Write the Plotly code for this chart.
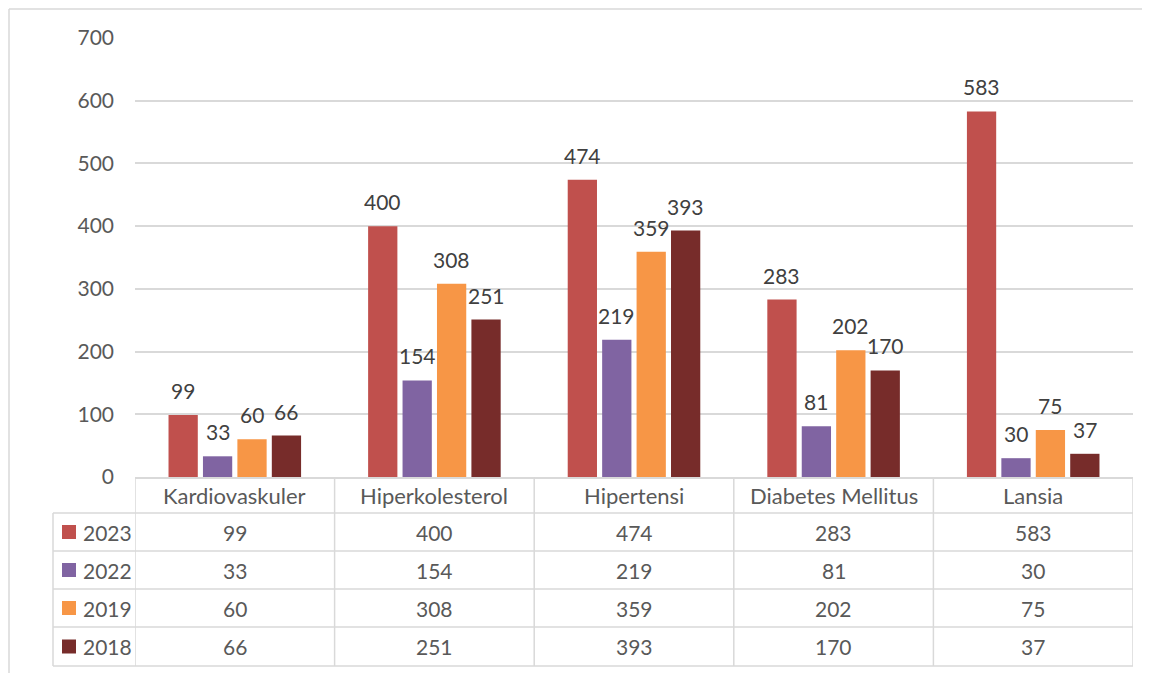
import plotly.graph_objects as go

categories = ["Kardiovaskuler", "Hiperkolesterol", "Hipertensi", "Diabetes Mellitus", "Lansia"]
series_names = ["2023", "2022", "2019", "2018"]
values_2023 = [99, 400, 474, 283, 583]
values_2022 = [33, 154, 219, 81, 30]
values_2019 = [60, 308, 359, 202, 75]
values_2018 = [66, 251, 393, 170, 37]
colors = ["#C0504D", "#8064A2", "#F79646", "#772C2A"]
y_ticks = [0, 100, 200, 300, 400, 500, 600, 700]

series_values = [values_2023, values_2022, values_2019, values_2018]

# page body has an 8px margin: work in reference pixels, shift by OFF
OFF = 8
W, H = 1150 - OFF, 673 - OFF
PLOT_L, PLOT_R, PLOT_T, PLOT_B = 135, 1133, 38, 477   # reference pixels
ML, MR, MT, MB = PLOT_L - OFF, 1150 - PLOT_R, PLOT_T - OFF, 673 - PLOT_B
PW, PH = PLOT_R - PLOT_L, PLOT_B - PLOT_T

def px_x(x):
    return (x - PLOT_L) / PW

def px_y(y):
    return (PLOT_B - y) / PH

FONT = "Lato, 'Open Sans', sans-serif"
FS = 22      # category labels
FN = 21      # numbers
GRID = "#d9d9d9"
TXT = "#595959"
BARGAP = 0.31

fig = go.Figure()
for name, vals, col in zip(series_names, series_values, colors):
    fig.add_trace(go.Bar(name=name, x=categories, y=vals, marker_color=col,
                         marker_line_width=0, hoverinfo="x+y+name"))

shapes = []
annotations = []

# data labels above bars
k = len(series_names)
slot = (1 - BARGAP) / k
for i, vals in enumerate(series_values):
    for j, v in enumerate(vals):
        annotations.append(dict(x=j + (i - (k - 1) / 2) * slot, xref="x", y=v, yref="y",
                                text=str(v), showarrow=False, xanchor="center", yanchor="bottom",
                                yshift=10, font=dict(family=FONT, size=FN, color="#404040")))

# table geometry (reference pixels)
header_top, header_bot = 477, 513
row_lines = [513, 551, 589, 627, 666]
left_col = 53

for yl in row_lines:
    shapes.append(dict(type="line", xref="paper", yref="paper",
                       x0=px_x(left_col), x1=1, y0=px_y(yl), y1=px_y(yl),
                       line=dict(color=GRID, width=1.5)))
n = len(categories)
for i in range(n + 1):
    shapes.append(dict(type="line", xref="x", yref="paper",
                       x0=i - 0.5, x1=i - 0.5, y0=px_y(header_top), y1=px_y(row_lines[-1]),
                       line=dict(color=GRID, width=1.5)))
shapes.append(dict(type="line", xref="paper", yref="paper",
                   x0=px_x(left_col), x1=px_x(left_col), y0=px_y(row_lines[0]), y1=px_y(row_lines[-1]),
                   line=dict(color=GRID, width=1.5)))
# outer chart border (top, left)
shapes.append(dict(type="line", xref="paper", yref="paper",
                   x0=px_x(9), x1=px_x(1160), y0=px_y(9), y1=px_y(9),
                   line=dict(color=GRID, width=1.5)))
shapes.append(dict(type="line", xref="paper", yref="paper",
                   x0=px_x(9), x1=px_x(9), y0=px_y(9), y1=px_y(690),
                   line=dict(color=GRID, width=1.5)))

for c in categories:
    annotations.append(dict(x=c, xref="x", y=px_y((header_top + header_bot) / 2), yref="paper",
                            text=c, showarrow=False, xanchor="center", yanchor="middle",
                            font=dict(family=FONT, size=FS, color=TXT)))

for r, (name, vals, col) in enumerate(zip(series_names, series_values, colors)):
    yc = (row_lines[r] + row_lines[r + 1]) / 2
    shapes.append(dict(type="rect", xref="paper", yref="paper",
                       x0=px_x(62), x1=px_x(76), y0=px_y(yc - 7), y1=px_y(yc + 7),
                       fillcolor=col, line=dict(width=0)))
    annotations.append(dict(x=px_x(81), xref="paper", y=px_y(yc), yref="paper",
                            text=name, showarrow=False, xanchor="left", yanchor="middle",
                            font=dict(family=FONT, size=FN, color=TXT)))
    for c, v in zip(categories, vals):
        annotations.append(dict(x=c, xref="x", y=px_y(yc), yref="paper",
                                text=str(v), showarrow=False, xanchor="center", yanchor="middle",
                                font=dict(family=FONT, size=FN, color=TXT)))

fig.update_layout(
    width=W, height=H,
    margin=dict(l=ML, r=MR, t=MT, b=MB),
    paper_bgcolor="white", plot_bgcolor="white",
    barmode="group", bargap=BARGAP, bargroupgap=0.15,
    showlegend=False,
    shapes=shapes, annotations=annotations,
    font=dict(family=FONT, color=TXT),
)
fig.update_xaxes(showticklabels=False, ticks="", showgrid=False,
                 showline=True, linecolor=GRID, linewidth=1.5,
                 categoryorder="array", categoryarray=categories,
                 range=[-0.5, n - 0.5], fixedrange=True)
fig.update_yaxes(range=[0, 700], tickvals=y_ticks, showgrid=True, gridcolor=GRID, gridwidth=1.5,
                 zeroline=False, showline=False, ticks="",
                 tickfont=dict(family=FONT, size=FN, color=TXT),
                 ticklabelstandoff=20, fixedrange=True)

fig.write_html("out.html")
